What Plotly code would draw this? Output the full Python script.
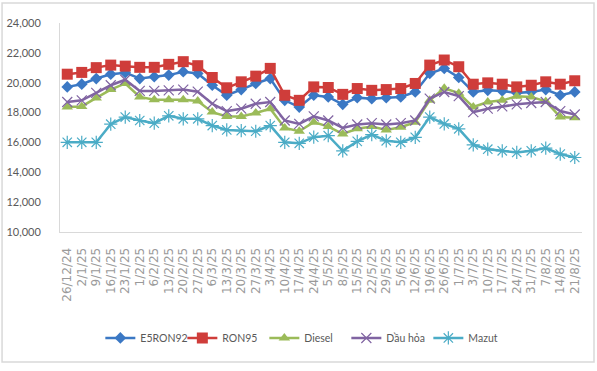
import plotly.graph_objects as go

dates = ["26/12/24", "2/1/25", "9/1/25", "16/1/25", "23/1/25", "1/2/25", "6/2/25", "13/2/25",
         "20/2/25", "27/2/25", "6/3/25", "13/3/25", "20/3/25", "27/3/25", "3/4/25", "10/4/25",
         "17/4/25", "24/4/25", "5/5/25", "8/5/25", "15/5/25", "22/5/25", "29/5/25", "5/6/25",
         "12/6/25", "19/6/25", "26/6/25", "1/7/25", "3/7/25", "10/7/25", "17/7/25", "24/7/25",
         "31/7/25", "7/8/25", "14/8/25", "21/8/25"]

e5ron92 = [19720, 19900, 20280, 20570, 20670, 20280, 20400, 20510, 20740, 20620, 19830, 19160,
           19540, 19950, 20280, 18820, 18370, 19160, 19050, 18550, 19000, 18930, 19000, 19050,
           19380, 20620, 20960, 20350, 19380, 19490, 19450, 19320, 19380, 19540, 19160, 19380]

ron95 = [20570, 20690, 21010, 21180, 21110, 21030, 21030, 21230, 21410, 21140, 20350, 19660,
         20060, 20440, 20960, 19160, 18820, 19720, 19680, 19220, 19610, 19490, 19540, 19610,
         19950, 21180, 21520, 21070, 19900, 19990, 19900, 19720, 19830, 20060, 19900, 20130]

diesel = [18370, 18410, 18980, 19540, 19950, 19050, 18860, 18860, 18860, 18780, 18030, 17740,
          17740, 17970, 18260, 16970, 16750, 17360, 17060, 16570, 16910, 17060, 16840, 17020,
          17360, 18820, 19630, 19300, 18370, 18710, 18820, 19090, 19050, 18750, 17700, 17650]

dau_hoa = [18710, 18820, 19320, 19830, 20200, 19450, 19450, 19490, 19540, 19400, 18590, 18100,
           18260, 18590, 18710, 17470, 17240, 17750, 17470, 16970, 17200, 17290, 17200, 17290,
           17470, 18930, 19380, 19100, 18030, 18260, 18410, 18550, 18640, 18710, 18100, 17870]

mazut = [16010, 16010, 16010, 17220, 17700, 17470, 17290, 17780, 17580, 17580, 17130, 16840,
         16790, 16750, 17130, 16010, 15940, 16350, 16450, 15440, 16070, 16520, 16110, 16010,
         16340, 17700, 17240, 16910, 15840, 15550, 15440, 15330, 15440, 15620, 15220, 14990]

y_ticks = [10000, 12000, 14000, 16000, 18000, 20000, 22000, 24000]

series = [
    ("E5RON92", e5ron92, "#3b78c4", "diamond", 9, 0),
    ("RON95", ron95, "#cf3d3a", "square", 11, 0),
    ("Diesel", diesel, "#9bbb59", "triangle-up", 10, 0),
    ("Dầu hỏa", dau_hoa, "#8064a2", "x-thin-open", 10, 1.2),
    ("Mazut", mazut, "#4bacc6", "asterisk-open", 11, 1.2),
]

fig = go.Figure()
for name, vals, color, sym, size, lw in series:
    mk = dict(symbol=sym, size=size, color=color)
    if lw:
        mk["line"] = dict(color=color, width=lw)
    fig.add_trace(go.Scatter(
        x=dates, y=vals, name=name, mode="lines+markers",
        line=dict(color=color, width=2.5), marker=mk,
    ))

fig.update_layout(
    width=597, height=371,
    margin=dict(l=60, r=15, t=23, b=139),
    paper_bgcolor="white", plot_bgcolor="white",
    font=dict(family="Lato, sans-serif", size=11, color="#595959"),
    showlegend=True,
    legend=dict(orientation="h", x=0.47, xanchor="center", y=-0.507, yanchor="middle",
                font=dict(family="Lato, sans-serif", size=10.5, color="#595959"),
                itemwidth=30, entrywidth=37),
    shapes=[dict(type="rect", xref="paper", yref="paper",
                 x0=-0.111, x1=1.023, y0=-0.622, y1=1.096,
                 line=dict(color="#d9d9d9", width=1.5), layer="below")],
)
fig.update_xaxes(
    type="category", range=[-0.5, len(dates) - 0.5], automargin=False,
    tickangle=-90, showgrid=False, showline=True, linecolor="#d9d9d9", linewidth=1,
    ticks="outside", ticklen=10, tickcolor="rgba(0,0,0,0)",
    tickfont=dict(family="DejaVu Sans, sans-serif", size=12, color="#9a9a9a"),
)
fig.update_yaxes(
    range=[10000, 24000], tickvals=y_ticks, tickformat=",", automargin=False,
    showgrid=False, showline=True, linecolor="#d9d9d9", linewidth=1,
    ticks="outside", ticklen=16, tickcolor="rgba(0,0,0,0)", zeroline=False,
    tickfont=dict(family="Lato, sans-serif", size=11, color="#595959"),
)

fig.write_html("out.html", config={"displayModeBar": False},
               post_script="document.body.style.margin='0';")
